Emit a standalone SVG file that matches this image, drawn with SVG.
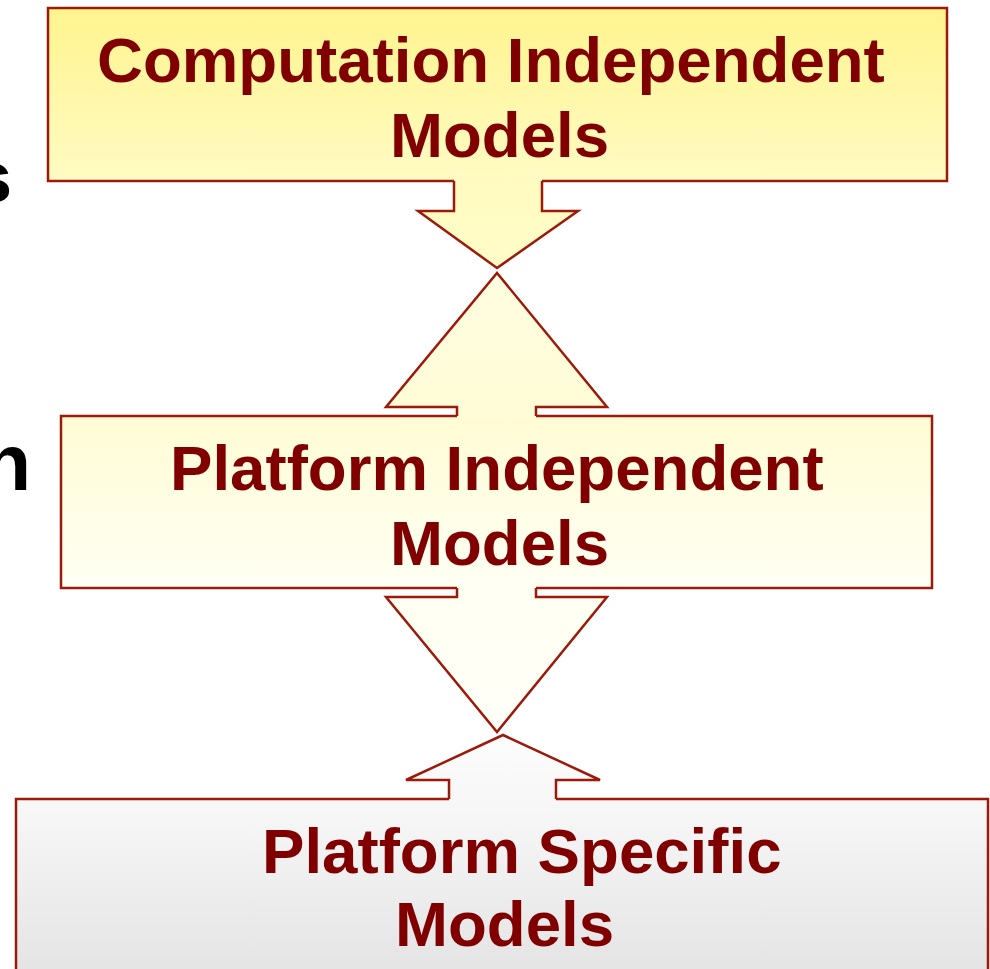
<svg xmlns="http://www.w3.org/2000/svg" width="990" height="969" viewBox="0 0 990 969">
<defs>
<linearGradient id="g1" x1="0" y1="0" x2="0" y2="1"><stop offset="0" stop-color="#fff48e"/><stop offset="1" stop-color="#fffbc4"/></linearGradient>
<linearGradient id="g2" x1="0" y1="0" x2="0" y2="1"><stop offset="0" stop-color="#fffcd4"/><stop offset="1" stop-color="#fffff4"/></linearGradient>
<linearGradient id="g3" x1="0" y1="0" x2="0" y2="1"><stop offset="0" stop-color="#f8f8f8"/><stop offset="1" stop-color="#e2e2e2"/></linearGradient>
<linearGradient id="ga1" x1="0" y1="0" x2="0" y2="1"><stop offset="0" stop-color="#fffbc0"/><stop offset="1" stop-color="#fffcc8"/></linearGradient>
<linearGradient id="ga2" x1="0" y1="0" x2="0" y2="1"><stop offset="0" stop-color="#fffde0"/><stop offset="1" stop-color="#fffcd6"/></linearGradient>
<linearGradient id="ga3" x1="0" y1="0" x2="0" y2="1"><stop offset="0" stop-color="#fffff2"/><stop offset="1" stop-color="#fffff8"/></linearGradient>
<linearGradient id="ga4" x1="0" y1="0" x2="0" y2="1"><stop offset="0" stop-color="#fdfdfd"/><stop offset="1" stop-color="#f7f7f7"/></linearGradient>
</defs>
<style>
.box{stroke:#9b1a0a;stroke-width:2.5}
.fill{stroke:none}
.arr{fill:none;stroke:#9b1a0a;stroke-width:2.5;stroke-linejoin:miter}
.t{font-family:"Liberation Sans",Arial,sans-serif;font-weight:bold;font-size:63.6px;fill:#800000}
.bg{font-family:"Liberation Sans",Arial,sans-serif;font-weight:bold;fill:#000}
</style>
<text class="bg" x="12" y="202" font-size="72" text-anchor="end">s</text>
<text class="bg" x="31" y="490" font-size="80" text-anchor="end">n</text>
<g id="cim">
<rect class="box" x="48" y="8" width="899" height="173" fill="url(#g1)"/>
<text class="t" x="97" y="82">Computation Independent</text>
<text class="t" x="390" y="157">Models</text>
</g>
<g id="pim">
<rect class="box" x="61" y="416" width="871" height="172" fill="url(#g2)"/>
<text class="t" x="170" y="490">Platform Independent</text>
<text class="t" x="390" y="565">Models</text>
</g>
<g id="psm">
<rect class="box" x="16" y="799" width="972" height="190" fill="url(#g3)"/>
<text class="t" x="262" y="873">Platform Specific</text>
<text class="t" x="395" y="946">Models</text>
</g>
<g id="connectors">
<polygon class="fill" fill="url(#ga1)" points="454,178 454,211 418,211 497,268 578,211 542,211 542,178"/>
<polyline class="arr" points="454,181 454,211 418,211 497,268 578,211 542,211 542,181"/>
<polygon class="fill" fill="url(#ga2)" points="497,273 386,407 457,407 457,419 536,419 536,407 607,407"/>
<polyline class="arr" points="457,416 457,407 386,407 497,273 607,407 536,407 536,416"/>
<polygon class="fill" fill="url(#ga3)" points="457,585 457,597 386,597 497,732 607,597 536,597 536,585"/>
<polyline class="arr" points="457,588 457,597 386,597 497,732 607,597 536,597 536,588"/>
<polygon class="fill" fill="url(#ga4)" points="503,735 406,780 449,780 449,802 556,802 556,780 600,780"/>
<polyline class="arr" points="449,799 449,780 406,780 503,735 600,780 556,780 556,799"/>
</g>
</svg>
